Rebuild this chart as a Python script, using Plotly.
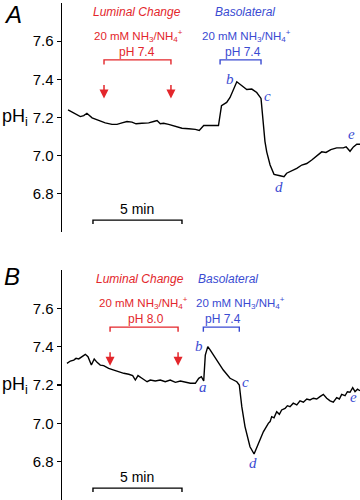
import plotly.graph_objects as go

# ---------------- data (time in min, pH) ----------------
tA = [0.34, 0.66, 1.03, 1.22, 1.40, 1.69, 2.06, 2.43, 2.81, 3.09, 3.37, 3.65, 3.93, 4.16,
      4.49, 4.87, 5.15, 5.34, 5.52, 5.71, 5.99, 6.37, 6.74, 7.12, 7.49, 7.71, 7.96, 8.33,
      8.79, 8.96, 9.25, 9.44, 9.82, 10.38, 10.66, 10.94, 11.18, 11.40, 11.50, 11.69, 11.91,
      12.25, 12.47, 12.62, 12.90, 13.19, 13.47, 13.75, 14.03, 14.31, 14.59, 14.83, 15.10,
      15.43, 15.80, 15.96, 16.18, 16.37, 16.56, 16.74]
phA = [7.240, 7.222, 7.205, 7.210, 7.222, 7.198, 7.184, 7.172, 7.164, 7.164, 7.172, 7.179,
       7.176, 7.167, 7.170, 7.172, 7.179, 7.184, 7.167, 7.170, 7.164, 7.153, 7.144, 7.141,
       7.138, 7.132, 7.158, 7.158, 7.158, 7.262, 7.279, 7.305, 7.387, 7.347, 7.349, 7.331,
       7.300, 7.075, 7.020, 6.951, 6.902, 6.895, 6.890, 6.908, 6.919, 6.933, 6.951, 6.959,
       6.977, 6.999, 7.020, 7.017, 7.032, 7.041, 7.041, 7.046, 7.023, 7.046, 7.060, 7.060]

tB = [0.28, 0.47, 0.66, 0.79, 0.94, 1.16, 1.31, 1.46, 1.65, 1.81, 1.97, 2.15, 2.34, 2.62,
      2.90, 3.19, 3.47, 3.75, 3.97, 4.12, 4.27, 4.49, 4.78, 4.96, 5.24, 5.52, 5.80, 6.08,
      6.37, 6.65, 6.93, 7.21, 7.49, 7.68, 7.83, 7.96, 8.05, 8.19, 8.32, 8.50, 8.78, 9.06,
      9.44, 9.82, 9.96, 10.10, 10.28, 10.56, 10.79, 11.03, 11.31, 11.59, 11.69, 11.78,
      11.91, 12.06, 12.21, 12.34, 12.53, 12.66, 12.81, 12.99, 13.19, 13.37, 13.56, 13.75,
      13.93, 14.12, 14.31, 14.49, 14.68, 14.87, 15.06, 15.24, 15.43, 15.58, 15.71, 15.90,
      16.03, 16.18, 16.33, 16.46, 16.60, 16.74]
phB = [7.313, 7.325, 7.330, 7.339, 7.336, 7.351, 7.360, 7.348, 7.304, 7.336, 7.318, 7.304,
       7.301, 7.287, 7.278, 7.266, 7.261, 7.256, 7.249, 7.226, 7.249, 7.235, 7.217, 7.226,
       7.221, 7.226, 7.217, 7.226, 7.214, 7.221, 7.214, 7.209, 7.209, 7.235, 7.243, 7.221,
       7.356, 7.400, 7.383, 7.356, 7.316, 7.278, 7.235, 7.217, 7.200, 7.087, 6.983, 6.878,
       6.840, 6.896, 6.956, 7.000, 7.009, 7.035, 7.029, 7.061, 7.047, 7.070, 7.078, 7.092,
       7.087, 7.105, 7.096, 7.117, 7.110, 7.127, 7.122, 7.131, 7.127, 7.139, 7.151, 7.131,
       7.117, 7.110, 7.134, 7.127, 7.151, 7.144, 7.165, 7.162, 7.186, 7.165, 7.178, 7.170]

y_ticks = [6.8, 7.0, 7.2, 7.4, 7.6]
y_tick_labels = ["6.8", "7.0", "7.2", "7.4", "7.6"]

# exposure periods (min)
lum_A = [2.36, 6.12]
baso_A = [8.88, 11.18]
lum_B = [2.70, 6.52]
baso_B = [7.94, 9.96]

# point labels (letter, t, pH)
labels_A = [("b", 9.44, 7.403), ("c", 11.52, 7.314), ("d", 12.19, 6.836), ("e", 16.29, 7.112)]
labels_B = [("a", 7.90, 7.191), ("b", 7.71, 7.405), ("c", 10.28, 7.217),
            ("d", 10.75, 6.795), ("e", 16.35, 7.137)]

scale_bar = [1.74, 6.74]   # 5 min

RED = "#e3262b"
BLUE = "#3a4bd2"
X_RANGE = [0, 16.74]
Y_RANGE = [6.6, 7.8]

fig = go.Figure()
fig.add_trace(go.Scatter(x=tA, y=phA, mode="lines", line=dict(color="black", width=1.4),
                         xaxis="x", yaxis="y", showlegend=False, hoverinfo="skip"))
fig.add_trace(go.Scatter(x=tB, y=phB, mode="lines", line=dict(color="black", width=1.4),
                         xaxis="x2", yaxis="y2", showlegend=False, hoverinfo="skip"))

yax = dict(range=Y_RANGE, tickvals=y_ticks, ticktext=y_tick_labels, showline=True,
           linecolor="black", linewidth=1.5, ticks="outside", ticklen=4, tickwidth=1.3,
           tickcolor="black", showgrid=False, zeroline=False,
           tickfont=dict(family="Liberation Sans, Arial", size=15, color="black"))
xax = dict(range=X_RANGE, visible=False, domain=[62 / 360, 1])

fig.update_layout(
    width=360, height=500, margin=dict(l=0, r=0, t=0, b=0),
    paper_bgcolor="white", plot_bgcolor="white",
    xaxis=dict(xax, anchor="y"),
    yaxis=dict(yax, domain=[1 - 232 / 500, 1 - 3 / 500], anchor="x"),
    xaxis2=dict(xax, anchor="y2"),
    yaxis2=dict(yax, domain=[0, 1 - 270 / 500], anchor="x2"),
)

ann = []
shapes = []
SANS = "Liberation Sans, Arial"
SERIF = "Liberation Serif, Times New Roman"
nh = "20 mM NH<sub>3</sub>/NH<sub>4</sub><sup>+</sup>"


def panel(xr, yr, letter, letter_y, lum, baso, lum_ph, labels, lum_cx, baso_cx,
          lum_nh_cx, baso_nh_cx, lum_ph_cx, baso_ph_cx):
    # panel letter and y title
    ann.append(dict(text=f"<i>{letter}</i>", xref="paper", yref="paper", x=2 / 360,
                    y=1 - letter_y / 500, xanchor="left", yanchor="middle", showarrow=False,
                    font=dict(family=SANS, size=24, color="black")))
    # header texts
    for txt, cx, cy, col, it, sz in [
        ("Luminal Change", lum_cx, 7.752, RED, True, 12),
        (nh, lum_nh_cx, 7.627, RED, False, 11.5),
        (lum_ph, lum_ph_cx, 7.545, RED, False, 12),
        ("Basolateral", baso_cx, 7.752, BLUE, True, 12),
        (nh, baso_nh_cx, 7.627, BLUE, False, 11.5),
        ("pH 7.4", baso_ph_cx, 7.545, BLUE, False, 12),
    ]:
        ann.append(dict(text=f"<i>{txt}</i>" if it else txt, xref=xr, yref=yr, x=cx, y=cy,
                        showarrow=False, xanchor="center", yanchor="middle",
                        font=dict(family=SANS, size=sz, color=col)))
    # brackets
    for (a, b), col in [(lum, RED), (baso, BLUE)]:
        shapes.append(dict(type="path", xref=xr, yref=yr,
                           path=f"M {a},7.478 L {a},7.502 L {b},7.502 L {b},7.478",
                           line=dict(color=col, width=1.4)))
    # luminal arrows
    for t in lum:
        ann.append(dict(text="", xref=xr, yref=yr, x=t, y=7.30, ax=0, ay=-15,
                        showarrow=True, arrowhead=2, arrowsize=1.2, arrowwidth=1.5,
                        arrowcolor=RED))
    # point letters
    for s, t, p in labels:
        ann.append(dict(text=f"<i>{s}</i>", xref=xr, yref=yr, x=t, y=p, showarrow=False,
                        font=dict(family=SERIF, size=15, color=BLUE)))
    # scale bar
    a, b = scale_bar
    shapes.append(dict(type="path", xref=xr, yref=yr,
                       path=f"M {a},6.642 L {a},6.662 L {b},6.662 L {b},6.642",
                       line=dict(color="black", width=1.4)))
    ann.append(dict(text="5 min", xref=xr, yref=yr, x=(a + b) / 2, y=6.72, showarrow=False,
                    font=dict(family=SANS, size=14, color="black")))
    ann.append(dict(text="pH<sub>i</sub>", xref="paper", yref=yr, x=0.0, y=7.2,
                    xanchor="left", yanchor="middle", showarrow=False,
                    font=dict(family=SANS, size=18, color="black")))


panel("x", "y", "A", 14, lum_A, baso_A, "pH 7.4", labels_A, 4.21, 10.28, 4.30, 10.39, 4.24, 10.14)
panel("x2", "y2", "B", 276, lum_B, baso_B, "pH 8.0", labels_B, 4.38, 9.33, 4.55, 10.0, 4.70, 9.03)

fig.update_layout(annotations=ann, shapes=shapes)
fig.write_html("out.html", config={"displayModeBar": False, "staticPlot": True},
               post_script="document.body.style.margin='0';document.body.style.overflow='hidden';")
